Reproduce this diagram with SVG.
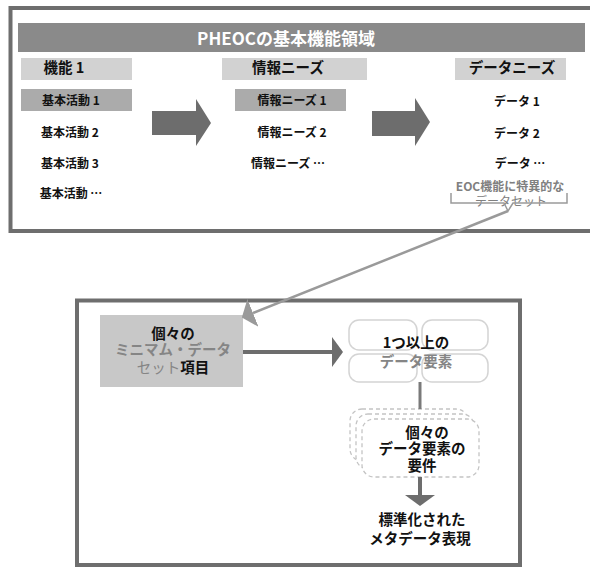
<svg xmlns="http://www.w3.org/2000/svg" width="590" height="567" viewBox="0 0 590 567">
<style>
text{font-family:"Noto Sans CJK JP","Noto Sans",sans-serif;text-anchor:middle;fill:#111}
.b{font-weight:700}
.g{fill:#858585}
.n{font-weight:400}
.hdr{font-size:14.5px;font-weight:700}
.row{font-size:12px;font-weight:700}
.big{font-size:14.5px;font-weight:700}
.frame{fill:none;stroke:#6e6e6e;stroke-width:4}
.hbox{fill:#d2d2d2}
.abox{fill:#ababab}
.blk{fill:#6d6d6d}
.rb{fill:#fff;stroke:#d4d4d4;stroke-width:1.5}
.db{fill:#fff;stroke:#c4c4c4;stroke-width:1.3;stroke-dasharray:4 3}
</style>
<defs>
<marker id="ah" markerUnits="userSpaceOnUse" viewBox="0 0 11 30" markerWidth="11" markerHeight="30" refX="0" refY="15" orient="auto"><path d="M0,0 L11,15 L0,30 Z" fill="#6d6d6d"/></marker>
<marker id="lh" markerUnits="userSpaceOnUse" viewBox="0 0 12 30" markerWidth="12" markerHeight="30" refX="0" refY="15" orient="auto"><path d="M0,0 L12,15 L0,30 Z" fill="#9a9a9a"/></marker>
</defs>
<rect width="590" height="567" fill="#fff"/>

<g id="top-frame">
<rect class="frame" x="10.5" y="8" width="600" height="223"/>
<rect x="18" y="23" width="567" height="29" fill="#8a8a8a"/>
<text x="286" y="44.5" style="font-size:17px;font-weight:700;fill:#fff">PHEOCの基本機能領域</text>
</g>

<g id="col-functions">
<rect class="hbox" x="21" y="58" width="111" height="22"/>
<text class="hdr" x="64" y="72.5">機能 1</text>
<rect class="abox" x="21" y="89" width="111" height="22"/>
<text class="row" x="71" y="104.5">基本活動 1</text>
<text class="row" x="70" y="137">基本活動 2</text>
<text class="row" x="70" y="167.5">基本活動 3</text>
<text class="row" x="71" y="197.5">基本活動 …</text>
</g>

<g id="col-info">
<rect class="hbox" x="222" y="58" width="145" height="22"/>
<text class="hdr" x="288" y="72.5">情報ニーズ</text>
<rect class="abox" x="235" y="89" width="111" height="22"/>
<text class="row" x="292" y="104.5">情報ニーズ 1</text>
<text class="row" x="292" y="137">情報ニーズ 2</text>
<text class="row" x="288" y="167.5">情報ニーズ …</text>
</g>

<g id="col-data">
<rect class="hbox" x="455" y="58" width="111" height="22"/>
<text class="hdr" x="512" y="72.5">データニーズ</text>
<text class="row" x="517" y="106">データ 1</text>
<text class="row" x="517" y="137.5">データ 2</text>
<text class="row" x="520" y="167.5">データ …</text>
<text x="510" y="190.5" style="font-size:12px;font-weight:700;fill:#808080">EOC機能に特異的な</text>
<text x="511" y="205.5" style="font-size:12px;fill:#808080">データセット</text>
<path d="M451,193 V203 H504 L508,211 L513,203 H567 V193" fill="none" stroke="#9a9a9a" stroke-width="1.5"/>
</g>

<g id="block-arrows">
<polygon class="blk" points="152,111 196,111 196,99 211,123 196,146 196,135 152,135"/>
<polygon class="blk" points="372,111 415,111 415,98 430,122 415,146 415,136 372,136"/>
</g>

<g id="bottom-frame">
<rect class="frame" x="77" y="300.5" width="443" height="264.5"/>
</g>

<g id="mds-item">
<rect x="100" y="315" width="143" height="72" fill="#c8c8c8"/>
<text class="big" x="173" y="338.5">個々の</text>
<text class="big g n" x="173" y="354.5">ミニマム・データ</text>
<text class="big" x="173" y="372.5"><tspan class="g n">セット</tspan>項目</text>
</g>

<g id="data-elements">
<rect class="rb" x="349" y="320" width="68" height="30" rx="10"/>
<rect class="rb" x="422" y="320" width="66" height="30" rx="10"/>
<rect class="rb" x="349" y="354" width="68" height="28" rx="10"/>
<rect class="rb" x="422" y="354" width="66" height="28" rx="10"/>
<text class="big" x="416" y="347.5">1つ以上の</text>
<text class="big g" x="416" y="366.5">データ要素</text>
</g>

<g id="element-requirements">
<rect class="db" x="350" y="409" width="118" height="52" rx="12"/>
<rect class="db" x="356" y="414" width="118" height="55" rx="12"/>
<rect class="db" x="362" y="419" width="117" height="58" rx="12"/>
<text class="big" x="427" y="438">個々の</text>
<text class="big" x="422" y="453.5">データ要素の</text>
<text class="big" x="422" y="470.5">要件</text>
</g>

<g id="metadata">
<text class="big" x="422" y="524.5">標準化された</text>
<text class="big" x="420" y="543.5">メタデータ表現</text>
</g>

<g id="connectors">
<line x1="508" y1="211" x2="253" y2="313" stroke="#9a9a9a" stroke-width="2.5" marker-end="url(#lh)"/>
<line x1="243" y1="352" x2="332" y2="352" stroke="#6d6d6d" stroke-width="4" marker-end="url(#ah)"/>
<line x1="420" y1="382" x2="420" y2="409" stroke="#7a7a7a" stroke-width="3"/>
<line x1="420" y1="477" x2="420" y2="495" stroke="#6d6d6d" stroke-width="4" marker-end="url(#ah)"/>
</g>
</svg>
